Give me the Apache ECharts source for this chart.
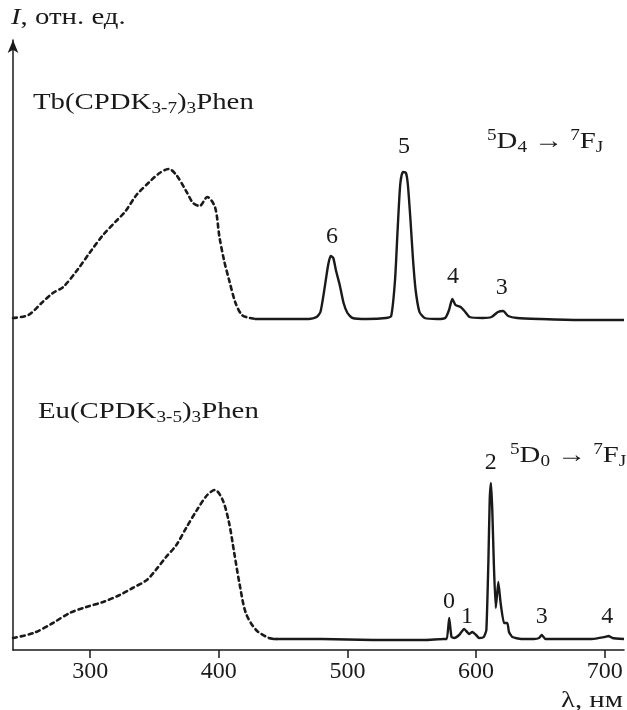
<!DOCTYPE html>
<html>
<head>
<meta charset="utf-8">
<script src="https://cdn.jsdelivr.net/npm/echarts@6/dist/echarts.min.js"></script>
<style>
  html, body { margin: 0; padding: 0; background: #fff; }
  #chart { width: 627px; height: 710px; }
</style>
</head>
<body>
<div id="chart"></div>
<script>
// длина волны, нм / интенсивность (отн. ед., кривые смещены по вертикали)
var tbExcNm = [240, 252, 263, 271, 279, 290, 300, 310, 321, 327, 336, 346, 354, 361, 367, 375, 380, 385, 391, 397, 400.5, 404, 408, 413, 418, 424, 430];
var tbExcI  = [332, 335, 348, 357, 363, 380, 398, 415, 430, 438, 455, 468, 477, 481, 475, 458, 447, 444, 453, 443, 413, 390, 370, 347, 335, 332, 331];

var tbEmNm = [428, 440, 455, 470, 476, 479, 482, 485, 487, 489, 491, 494, 497, 500, 504, 515, 530,
              534, 537, 539, 541, 543, 545.5, 547, 549, 551, 553, 556, 560, 570, 576,
              579, 581.5, 584, 588, 591, 595, 605, 612, 617, 621, 625, 632, 650, 680, 715];
var tbEmI  = [331, 331, 331, 331, 333, 338, 360, 385, 394, 392, 380, 365, 347, 337, 332, 331, 332,
              334, 370, 420, 465, 478, 477, 465, 430, 390, 360, 338, 332, 331, 332,
              340, 351, 345, 343, 339, 333, 332, 333, 338, 339, 334, 332, 331, 330, 330];

var euExcNm = [240, 256, 271, 284, 297, 310, 323, 333, 344, 351, 359, 367, 375, 383, 391, 397, 403, 408, 412, 416, 421, 429, 439, 445];
var euExcI  = [12, 17, 27, 37, 43, 48, 55, 62, 70, 80, 93, 105, 123, 140, 155, 160, 150, 127, 97, 67, 37, 20, 12, 11];

var euEmNm = [442, 480, 520, 560, 575, 577.3, 579.1, 580.9, 583, 586.8, 590.7, 594.6, 597.1, 600, 602.3, 606,
              608, 609.6, 610.6, 611.6, 612.6, 613.9, 615.3, 617.3, 619.1, 621.7, 624.3, 625.6, 628.2,
              635, 645, 649, 651, 654, 670, 690, 700, 703, 706, 715];
var euEmI  = [11, 11, 10, 10, 11, 11, 32, 13, 12, 15, 21, 16, 18, 15, 12, 13,
              20, 90, 150, 167, 140, 83, 42, 68, 47, 27, 27, 18, 13,
              11, 11, 12, 15, 11, 11, 11, 13, 14, 12, 11];

// подписи переходов J
var tbPeakNm = [488, 544, 582, 620];
var tbPeakI  = [413, 503, 373, 362];
var tbPeakTx = ['6', '5', '4', '3'];

var euPeakNm = [579, 593, 611.5, 651, 702];
var euPeakI  = [48, 33, 187, 33, 33];
var euPeakTx = ['0', '1', '2', '3', '4'];

var xTicks = [300, 400, 500, 600, 700];

function pairs(xs, ys) {
  return xs.map(function (x, i) { return [x, ys[i]]; });
}
function labelPts(xs, ys, tx) {
  return xs.map(function (x, i) { return { value: [x, ys[i]], name: tx[i] }; });
}

var FONT = '"Liberation Serif", "DejaVu Serif", serif';
var INK = '#1a1a1a';

var richSty = {
  n: { fontFamily: FONT, fontSize: 24, lineHeight: 28, color: INK },
  i: { fontFamily: FONT, fontSize: 24, lineHeight: 28, fontStyle: 'italic', color: INK },
  s: { fontFamily: FONT, fontSize: 16, lineHeight: 14, verticalAlign: 'bottom', color: INK },
  p: { fontFamily: FONT, fontSize: 16, lineHeight: 14, verticalAlign: 'top', color: INK }
};

// шрифт оригинала шире Times, поэтому растягиваем по горизонтали
function txt(x, y, text, align) {
  return {
    type: 'text', x: x, y: y, scaleX: 1.2, silent: true,
    style: { text: text, rich: richSty, align: align || 'left', verticalAlign: 'middle', fill: INK }
  };
}

var chart = echarts.init(document.getElementById('chart'));

var lineBase = { type: 'line', showSymbol: false, silent: true, smooth: 0.3, animation: false };

chart.setOption({
  animation: false,
  grid: { left: 13, right: 3, top: 40, bottom: 60 },
  xAxis: {
    type: 'value', min: 240, max: 715,
    axisLine: { lineStyle: { color: INK, width: 1.5 } },
    axisTick: { show: true, customValues: xTicks, length: 8, lineStyle: { color: INK, width: 1.5 } },
    axisLabel: { customValues: xTicks, margin: 10, fontFamily: FONT, fontSize: 24, color: INK },
    splitLine: { show: false }
  },
  yAxis: {
    type: 'value', min: 0, max: 610,
    axisLine: { show: true, symbol: ['none', 'arrow'], symbolSize: [8, 13], lineStyle: { color: INK, width: 1.5 } },
    axisTick: { show: false },
    axisLabel: { show: false },
    splitLine: { show: false }
  },
  graphic: [
    txt(11, 18, '{i|I}{n|, отн. ед.}'),
    txt(33, 103, '{n|Tb(CPDK}{s|3-7}{n|)}{s|3}{n|Phen}'),
    txt(38, 412, '{n|Eu(CPDK}{s|3-5}{n|)}{s|3}{n|Phen}'),
    txt(487, 142, '{p|5}{n|D}{s|4}{n| → }{p|7}{n|F}{s|J}'),
    txt(510, 456, '{p|5}{n|D}{s|0}{n| → }{p|7}{n|F}{s|J}'),
    txt(623, 701, '{n|λ, нм}', 'right')
  ],
  series: [
    Object.assign({}, lineBase, {
      name: 'Tb exc', data: pairs(tbExcNm, tbExcI),
      lineStyle: { color: INK, width: 2.6, type: [4, 4], cap: 'round' }
    }),
    Object.assign({}, lineBase, {
      name: 'Tb em', data: pairs(tbEmNm, tbEmI), smooth: 0.2,
      lineStyle: { color: INK, width: 2.4 }
    }),
    Object.assign({}, lineBase, {
      name: 'Eu exc', data: pairs(euExcNm, euExcI),
      lineStyle: { color: INK, width: 2.6, type: [4, 4], cap: 'round' }
    }),
    Object.assign({}, lineBase, {
      name: 'Eu em', data: pairs(euEmNm, euEmI), smooth: 0.15,
      lineStyle: { color: INK, width: 2.4 }
    }),
    {
      type: 'scatter', silent: true, symbolSize: 0,
      data: labelPts(tbPeakNm, tbPeakI, tbPeakTx).concat(labelPts(euPeakNm, euPeakI, euPeakTx)),
      itemStyle: { color: INK, opacity: 1 },
      label: {
        show: true, position: 'inside', formatter: '{b}',
        fontFamily: FONT, fontSize: 24, color: INK, textBorderWidth: 0
      }
    }
  ]
});
</script>
</body>
</html>
